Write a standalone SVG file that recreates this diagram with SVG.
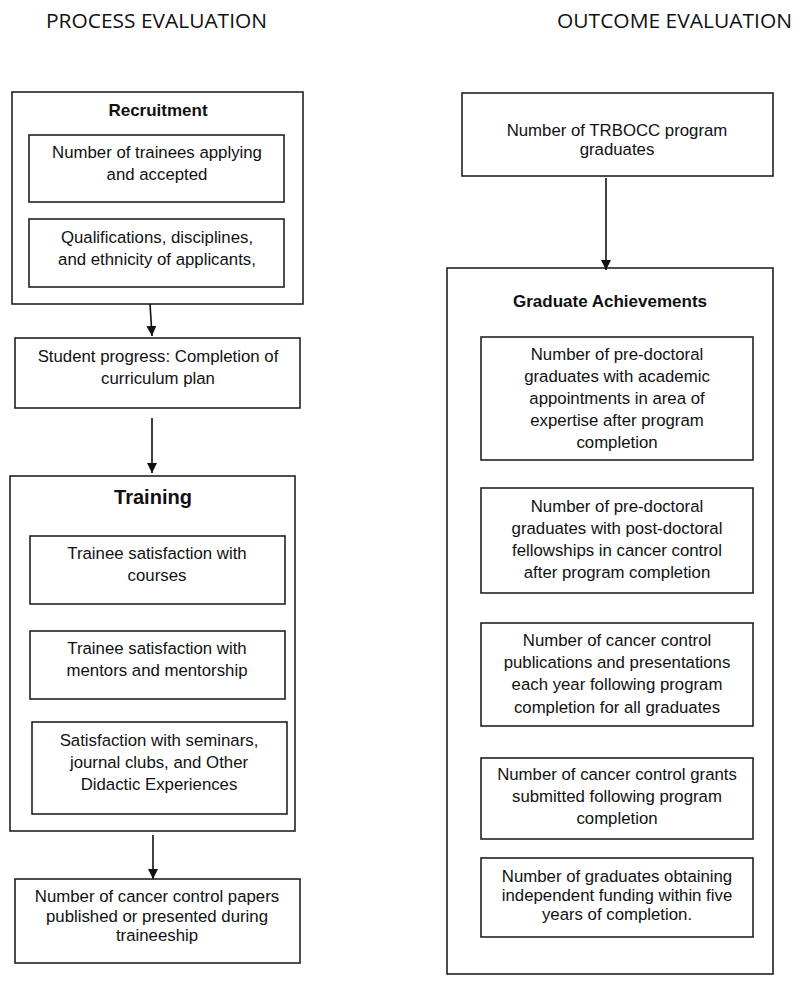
<svg xmlns="http://www.w3.org/2000/svg" width="800" height="987" viewBox="0 0 800 987">
<style>
.box{fill:#fff;stroke:#222;stroke-width:1.6}
.t{font-family:"Liberation Sans",Arial,sans-serif;font-size:16.8px;fill:#111;text-anchor:middle}
.h{font-family:"Liberation Sans",Arial,sans-serif;font-size:17px;font-weight:bold;fill:#111;text-anchor:middle}
.title{font-family:"Open Sans","Liberation Sans",sans-serif;font-size:20px;fill:#111}
.c{stroke:#111;stroke-width:1.6;fill:none;marker-end:url(#ah)}
</style>
<defs>
<marker id="ah" viewBox="0 0 10 10" refX="10" refY="5" markerWidth="10" markerHeight="10" markerUnits="userSpaceOnUse" orient="auto">
<path d="M0,0 L10,5 L0,10 z" fill="#111"/>
</marker>
</defs>
<rect width="800" height="987" fill="#fff"/>
<text class="title" x="46" y="28" textLength="221" lengthAdjust="spacingAndGlyphs">PROCESS EVALUATION</text>
<text class="title" x="557" y="28" textLength="235" lengthAdjust="spacingAndGlyphs">OUTCOME EVALUATION</text>

<g id="recruitment">
<rect class="box" x="12" y="92" width="291" height="212"/>
<text class="h" x="158" y="116">Recruitment</text>
</g>
<g id="applying">
<rect class="box" x="29" y="135" width="255" height="67"/>
<text class="t" x="157" y="158">Number of trainees applying</text>
<text class="t" x="157" y="180">and accepted</text>
</g>
<g id="qualifications">
<rect class="box" x="29" y="219" width="255" height="68"/>
<text class="t" x="157" y="243">Qualifications, disciplines,</text>
<text class="t" x="157" y="265">and ethnicity of applicants,</text>
</g>
<g id="progress">
<rect class="box" x="15" y="338" width="285" height="70"/>
<text class="t" x="158" y="362">Student progress: Completion of</text>
<text class="t" x="158" y="384">curriculum plan</text>
</g>
<g id="training">
<rect class="box" x="10" y="476" width="285" height="355"/>
<text class="h" x="153" y="504" style="font-size:20px">Training</text>
</g>
<g id="courses">
<rect class="box" x="30" y="536" width="255" height="68"/>
<text class="t" x="157" y="559">Trainee satisfaction with</text>
<text class="t" x="157" y="581">courses</text>
</g>
<g id="mentors">
<rect class="box" x="30" y="631" width="255" height="68"/>
<text class="t" x="157" y="654">Trainee satisfaction with</text>
<text class="t" x="157" y="676">mentors and mentorship</text>
</g>
<g id="seminars">
<rect class="box" x="32" y="722" width="255" height="92"/>
<text class="t" x="159" y="746">Satisfaction with seminars,</text>
<text class="t" x="159" y="768">journal clubs, and Other</text>
<text class="t" x="159" y="790">Didactic Experiences</text>
</g>
<g id="papers">
<rect class="box" x="15" y="879" width="285" height="84"/>
<text class="t" x="157" y="902">Number of cancer control papers</text>
<text class="t" x="157" y="922">published or presented during</text>
<text class="t" x="157" y="941">traineeship</text>
</g>

<g id="graduates">
<rect class="box" x="462" y="93" width="311" height="83"/>
<text class="t" x="617" y="136">Number of TRBOCC program</text>
<text class="t" x="617" y="155">graduates</text>
</g>
<g id="achievements">
<rect class="box" x="447" y="268" width="326" height="706"/>
<text class="h" x="610" y="307">Graduate Achievements</text>
</g>
<g id="academic">
<rect class="box" x="481" y="337" width="272" height="123"/>
<text class="t" x="617" y="360">Number of pre-doctoral</text>
<text class="t" x="617" y="382">graduates with academic</text>
<text class="t" x="617" y="404">appointments in area of</text>
<text class="t" x="617" y="426">expertise after program</text>
<text class="t" x="617" y="448">completion</text>
</g>
<g id="postdoc">
<rect class="box" x="481" y="488" width="272" height="105"/>
<text class="t" x="617" y="512">Number of pre-doctoral</text>
<text class="t" x="617" y="534">graduates with post-doctoral</text>
<text class="t" x="617" y="556">fellowships in cancer control</text>
<text class="t" x="617" y="578">after program completion</text>
</g>
<g id="publications">
<rect class="box" x="481" y="623" width="272" height="103"/>
<text class="t" x="617" y="646">Number of cancer control</text>
<text class="t" x="617" y="668">publications and presentations</text>
<text class="t" x="617" y="690">each year following program</text>
<text class="t" x="617" y="713">completion for all graduates</text>
</g>
<g id="grants">
<rect class="box" x="481" y="758" width="272" height="81"/>
<text class="t" x="617" y="780">Number of cancer control grants</text>
<text class="t" x="617" y="802">submitted following program</text>
<text class="t" x="617" y="824">completion</text>
</g>
<g id="funding">
<rect class="box" x="481" y="858" width="272" height="79"/>
<text class="t" x="617" y="882">Number of graduates obtaining</text>
<text class="t" x="617" y="901">independent funding within five</text>
<text class="t" x="617" y="920">years of completion.</text>
</g>

<g id="connectors">
<line class="c" x1="150" y1="304" x2="152" y2="336"/>
<line class="c" x1="152" y1="418" x2="152" y2="473"/>
<line class="c" x1="153" y1="835" x2="153" y2="879"/>
<line class="c" x1="606" y1="178" x2="606" y2="270"/>
</g>
</svg>
